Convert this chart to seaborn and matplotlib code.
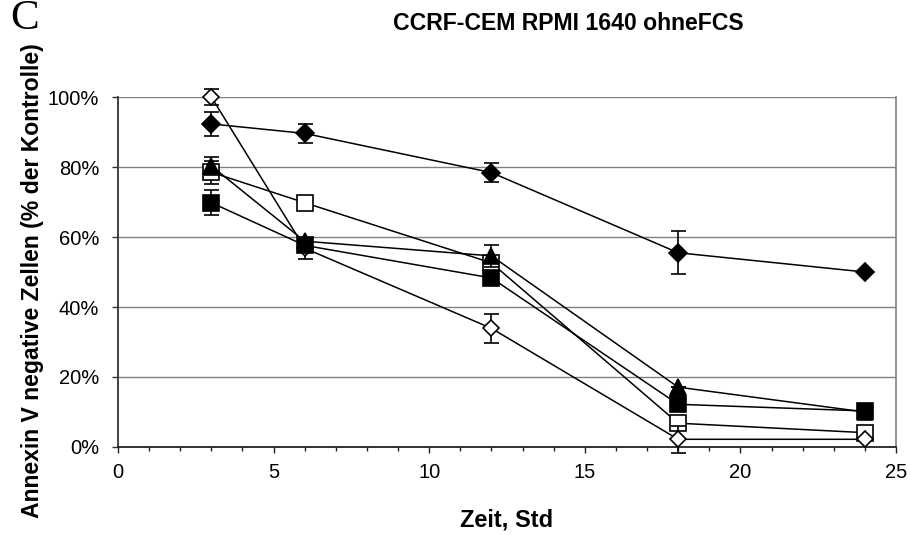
import matplotlib
matplotlib.use("Agg")
import matplotlib.pyplot as plt
import seaborn as sns
import numpy as np
from matplotlib.ticker import FuncFormatter, MultipleLocator

# ---- data ----
zeit = [3, 6, 12, 18, 24]
filled_diamond = [92.3, 89.6, 78.4, 55.5, 50.0]
filled_diamond_err = [3.3, 2.6, 2.8, 6.2, 0.0]
open_diamond = [100.0, 56.8, 33.9, 2.2, 2.2]
open_diamond_err = [2.3, 3.0, 4.2, 3.8, 0.0]
open_square = [78.5, 69.8, 52.6, 6.8, 4.1]
open_square_err = [3.3, 0.0, 0.0, 0.0, 0.0]
filled_square = [69.8, 57.6, 48.3, 12.2, 10.3]
filled_square_err = [3.5, 0.0, 0.0, 0.0, 0.0]
filled_triangle = [80.3, 58.8, 54.6, 17.1, 10.0]
filled_triangle_err = [2.5, 0.0, 3.1, 0.0, 0.0]

title = "CCRF-CEM RPMI 1640 ohneFCS"
xlabel = "Zeit, Std"
ylabel = "Annexin V negative Zellen (% der Kontrolle)"
panel = "C"
xticks = [0, 5, 10, 15, 20, 25]
yticks = [0, 20, 40, 60, 80, 100]

sns.set_theme(style="white")
plt.rcParams["font.family"] = ["Liberation Sans", "DejaVu Sans"]

W, H = 911, 535
fig = plt.figure(figsize=(W / 100, H / 100), dpi=100)
L, R, T, B = 118, 896, 97, 447
ax = fig.add_axes([L / W, 1 - B / H, (R - L) / W, (B - T) / H])

series = [
    (filled_diamond, filled_diamond_err, "D", "black", 8.8),
    (open_square, open_square_err, "s", "white", 11.5),
    (open_diamond, open_diamond_err, "D", "white", 7.8),
    (filled_square, filled_square_err, "s", "black", 11.5),
    (filled_triangle, filled_triangle_err, "^", "black", 11.0),
]

for i, (vals, errs, mk, fc, ms) in enumerate(series):
    z = 4 + 2 * i
    ax.errorbar(zeit, vals, yerr=errs, fmt="none", ecolor="black",
                elinewidth=1.2, capsize=5.4, capthick=1.2,
                zorder=z, clip_on=False)
    sns.lineplot(x=zeit, y=vals, ax=ax, color="black", linewidth=1.1,
                 marker=mk, markersize=ms, markerfacecolor=fc,
                 markeredgecolor="black", markeredgewidth=1.2,
                 errorbar=None, legend=False, clip_on=False, zorder=z + 1)

ax.set_xlim(0, 25)
ax.set_ylim(0, 100)
ax.set_xticks(xticks)
ax.set_yticks(yticks)
ax.xaxis.set_minor_locator(MultipleLocator(1))
ax.yaxis.set_major_formatter(FuncFormatter(lambda v, p: f"{v:.0f}%"))

ax.grid(False)
for yv in yticks[1:]:
    ax.axhline(yv, color="#808080", linewidth=1.0, zorder=1)

ax.spines["top"].set_visible(False)
ax.spines["right"].set_color("#808080")
ax.spines["right"].set_linewidth(1.2)
ax.spines["left"].set_color("#333333")
ax.spines["left"].set_linewidth(1.3)
ax.spines["bottom"].set_color("#222222")
ax.spines["bottom"].set_linewidth(1.3)

ax.tick_params(axis="x", which="major", direction="out", length=4.5, width=1.0,
               color="#222222", labelsize=14.5, pad=7, labelcolor="black", bottom=True)
ax.tick_params(axis="x", which="minor", direction="out", length=2.8, width=1.0,
               color="#222222", bottom=True)
ax.tick_params(axis="y", which="major", direction="out", length=4.5, width=1.0,
               color="#333333", labelsize=14.5, pad=9, labelcolor="black", left=True)

ax.set_xlabel(xlabel, fontsize=17, fontweight="bold", color="black")
ax.xaxis.set_label_coords(0.5, -0.175)
ax.set_ylabel(ylabel, fontsize=16.6, fontweight="bold", color="black")
ax.yaxis.label.set_verticalalignment("center")
ax.yaxis.set_label_coords((32.5 - L) / (R - L), (B - 281) / (B - T))

fig.text(393 / W, 1 - 30 / H, title, fontsize=16.6, fontweight="bold",
         ha="left", va="baseline", color="black")
fig.text(10.5 / W, 1 - 29 / H, panel, fontsize=31, ha="left", va="baseline",
         family=["Liberation Serif", "DejaVu Serif"], color="black")

fig.savefig("out.png", dpi=100)
